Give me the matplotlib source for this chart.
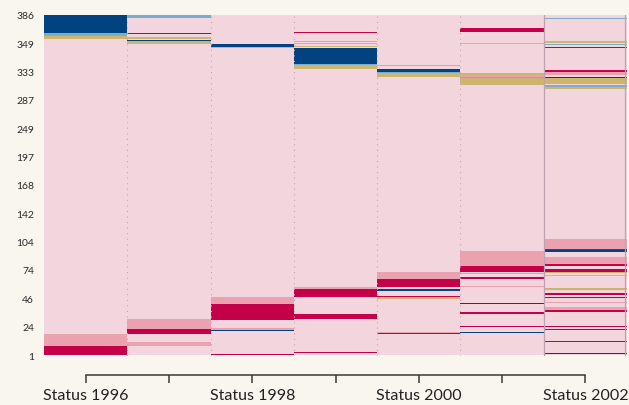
import matplotlib
matplotlib.use("Agg")
import matplotlib.pyplot as plt
import numpy as np

# ---- data ---------------------------------------------------------------
years = ["Status 1996", "Status 1997", "Status 1998", "Status 1999",
         "Status 2000", "Status 2001", "Status 2002"]
ytick_labels = ["1", "24", "46", "74", "104", "142", "168", "197",
                "249", "287", "333", "349", "386"]
n_sequences = 386

state_colors = {
    "A": "#F3D5DD",  # light pink (majority state)
    "B": "#EBA2B0",  # medium pink
    "C": "#C30048",  # crimson
    "D": "#004380",  # navy
    "E": "#78AECB",  # light blue
    "F": "#CDB570",  # gold
}

# runs of states from the bottom row upward, per year
s1996 = ["C", "B", "A", "F", "E", "D"]
n1996 = [10, 13, 336, 3, 3, 21]

s1997 = ["A", "B", "A", "C", "B", "A", "F", "E", "D", "A", "F", "A", "C", "A", "E"]
n1997 = [10, 4, 9, 6, 11, 313, 3, 1, 1, 1, 2, 3, 1, 18, 3]

s1998 = ["C", "A", "D", "B", "A", "C", "B", "A", "F", "D", "A"]
n1998 = [1, 26, 1, 2, 9, 19, 7, 283, 2, 3, 33]

s1999 = ["A", "C", "A", "C", "A", "C", "A", "C", "B", "A", "F", "E", "D",
         "A", "F", "A", "B", "A", "F", "A", "C", "A"]
n1999 = [2, 1, 20, 1, 16, 6, 20, 9, 2, 248, 4, 1, 18,
         2, 1, 2, 1, 1, 1, 10, 1, 19]

s2000 = ["A", "C", "B", "A", "F", "C", "A", "D", "A", "C", "B",
         "A", "F", "E", "D", "A", "F", "A"]
n2000 = [24, 1, 1, 37, 2, 2, 5, 3, 2, 9, 8,
         221, 5, 1, 4, 3, 1, 57]

s2001 = ["A", "D", "A", "C", "A", "C", "A", "D", "A", "B", "A", "C", "A",
         "F", "A", "C", "B", "A", "F", "E", "B", "F", "A", "B", "A", "C", "A"]
n2001 = [25, 1, 5, 2, 13, 2, 10, 1, 18, 1, 8, 2, 4,
         1, 1, 7, 17, 189, 7, 2, 2, 2, 33, 1, 13, 4, 15]

s2002 = ["A", "D", "A", "C", "A", "C", "A", "C", "A", "C", "B", "A", "B",
         "A", "C", "A", "C", "A", "B", "F", "A", "B", "A", "F", "C", "A",
         "C", "B", "A", "D", "C", "B", "A", "F", "E", "A", "F", "D", "A",
         "B", "C", "A", "C", "A", "E", "A", "F", "D", "A", "E", "A"]
n2002 = [1, 1, 12, 1, 13, 1, 2, 2, 16, 2, 3, 5, 1,
         4, 2, 2, 2, 3, 1, 2, 13, 1, 3, 1, 3, 4,
         2, 8, 6, 2, 1, 11, 171, 2, 3, 1, 6, 1, 3,
         3, 2, 26, 1, 2, 1, 1, 2, 1, 24, 2, 3]

columns = [(s1996, n1996), (s1997, n1997), (s1998, n1998), (s1999, n1999),
           (s2000, n2000), (s2001, n2001), (s2002, n2002)]

# ---- figure ----------------------------------------------------------------
bg = "#F9F6EF"
fig = plt.figure(figsize=(6.29, 4.05), dpi=100, facecolor=bg)
ax = fig.add_axes([44 / 629, 49 / 405, 583 / 629, 341 / 405])
ax.set_facecolor(bg)

for i, (sts, cnts) in enumerate(columns):
    bottoms = np.concatenate([[0], np.cumsum(cnts)[:-1]])
    ax.bar([i] * len(cnts), cnts, bottom=bottoms, width=1.0,
           color=[state_colors[s] for s in sts], linewidth=0, align="center")

# faint seams between columns
for b in np.arange(0.5, 5.5, 1.0):
    ax.axvline(b, color="#C9A3B4", lw=0.8, ls=(0, (1, 4)), zorder=3)
ax.axvline(5.5, color="#BFA2B0", lw=0.9, zorder=3)
ax.axvline(6.47, color="#BFA2B0", lw=0.9, zorder=3)

ax.set_xlim(-0.5, 6.5)
ax.set_ylim(0, n_sequences)

for side in ["top", "right", "left"]:
    ax.spines[side].set_visible(False)
ax.spines["bottom"].set_position(("outward", 13.5))
ax.spines["bottom"].set_bounds(0, 6)
ax.spines["bottom"].set_color("#3a3a3a")
ax.spines["bottom"].set_linewidth(1.1)

ax.set_xticks(range(7))
ax.set_xticklabels([y if k % 2 == 0 else "" for k, y in enumerate(years)],
                   fontfamily="Lato", fontsize=11.5, color="#222222")
ax.tick_params(axis="x", length=6, width=1.1, color="#3a3a3a", pad=4.5)

ax.set_yticks(np.linspace(-1.5, 385, len(ytick_labels)))
ax.set_yticklabels(ytick_labels, fontfamily="Lato", fontsize=7.5, color="#2a2a2a")
ax.tick_params(axis="y", length=0, pad=7)

fig.savefig("out.png", dpi=100, facecolor=bg)
